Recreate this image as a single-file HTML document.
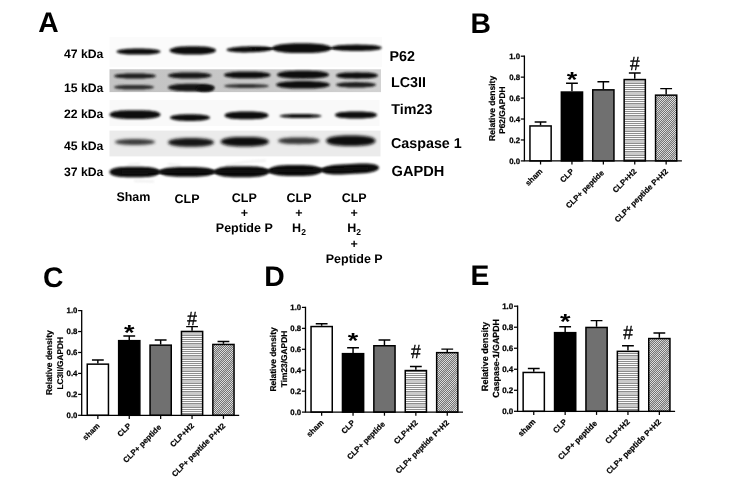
<!DOCTYPE html>
<html lang="en"><head><meta charset="utf-8"><title>Figure</title>
<style>html,body{margin:0;padding:0;background:#fff;}body{width:733px;height:483px;overflow:hidden;}svg{display:block;}text{font-family:"Liberation Sans", sans-serif;font-weight:bold;fill:#000;text-rendering:geometricPrecision;}</style>
</head><body>
<svg width="733" height="483" viewBox="0 0 733 483">
<defs>
<filter id="b1" x="-20%" y="-60%" width="140%" height="220%"><feGaussianBlur stdDeviation="0.9"/></filter>
<filter id="b2" x="-20%" y="-80%" width="140%" height="260%"><feGaussianBlur stdDeviation="1.5"/></filter>
<filter id="b0" x="-5%" y="-5%" width="110%" height="110%"><feGaussianBlur stdDeviation="0.6"/></filter>
<pattern id="hz" width="4" height="12" patternUnits="userSpaceOnUse"><rect width="4" height="12" fill="#fafafa"/><path d="M0 1.5H4M0 3.5H4M0 5.5H4M0 7.5H4M0 9.5H4M0 11.5H4" stroke="#8e8e8e" stroke-width="1"/><rect y="8" width="4" height="3" fill="#cacaca"/></pattern>
<pattern id="dg" width="2" height="2" patternUnits="userSpaceOnUse"><rect width="2" height="2" fill="#727272"/><rect width="1" height="1" fill="#dedede"/><rect x="1" y="1" width="1" height="1" fill="#dedede"/></pattern>
<pattern id="dg2" width="9" height="9" patternUnits="userSpaceOnUse" patternTransform="rotate(-55)"><rect width="9" height="3.2" fill="#8c8c8c" opacity="0.35"/></pattern>
<linearGradient id="lg" x1="0" x2="1" y1="0" y2="0"><stop offset="0" stop-color="#c3c3c3"/><stop offset="0.6" stop-color="#c8c8c8"/><stop offset="1" stop-color="#d2d2d2"/></linearGradient>
</defs>
<rect width="733" height="483" fill="#fff"/>
<text x="38.2" y="32.0" font-size="28.30" text-anchor="start">A</text>
<text x="470.6" y="33.3" font-size="28.30" text-anchor="start">B</text>
<text x="42.9" y="287.4" font-size="28.30" text-anchor="start">C</text>
<text x="264.3" y="286.1" font-size="28.30" text-anchor="start">D</text>
<text x="470.6" y="284.8" font-size="28.30" text-anchor="start">E</text>
<g id="blot">
<g filter="url(#b0)">
<rect x="109.5" y="37" width="272.5" height="30" fill="#fbfbfb"/>
<rect x="109.5" y="69.3" width="271.5" height="22.8" fill="url(#lg)"/>
<rect x="109.5" y="100" width="270" height="26" fill="#f9f9f9"/>
<rect x="109.5" y="130.6" width="271" height="25.8" fill="#ebebeb"/>
</g>
<polygon points="160.5,51.6 160.4,52.0 159.9,52.4 159.2,52.7 158.2,53.1 156.9,53.4 155.4,53.7 153.5,54.0 151.4,54.2 149.0,54.4 146.3,54.5 143.1,54.6 138.5,54.6 133.9,54.6 130.7,54.5 128.0,54.4 125.6,54.2 123.5,54.0 121.6,53.7 120.1,53.4 118.8,53.1 117.8,52.7 117.1,52.4 116.6,52.0 116.5,51.6 116.6,51.2 117.1,50.8 117.8,50.5 118.8,50.1 120.1,49.8 121.6,49.5 123.5,49.2 125.6,49.0 128.0,48.8 130.7,48.7 133.9,48.6 138.5,48.6 143.1,48.6 146.3,48.7 149.0,48.8 151.4,49.0 153.5,49.2 155.4,49.5 156.9,49.8 158.2,50.1 159.2,50.5 159.9,50.8 160.4,51.2" fill="#0a0a0a" filter="url(#b1)" opacity="1"/>
<polygon points="216.0,50.4 215.8,50.9 215.4,51.5 214.6,52.0 213.6,52.4 212.2,52.9 210.6,53.3 208.6,53.7 206.4,54.0 203.9,54.2 201.0,54.4 197.6,54.5 192.8,54.5 187.9,54.5 184.5,54.4 181.6,54.2 179.1,54.0 176.9,53.7 174.9,53.3 173.3,52.9 171.9,52.4 170.9,52.0 170.1,51.5 169.7,50.9 169.5,50.4 169.7,49.9 170.1,49.3 170.9,48.8 171.9,48.4 173.3,47.9 174.9,47.5 176.9,47.1 179.1,46.8 181.6,46.6 184.5,46.4 187.9,46.3 192.7,46.3 197.6,46.3 201.0,46.4 203.9,46.6 206.4,46.8 208.6,47.1 210.6,47.5 212.2,47.9 213.6,48.3 214.6,48.8 215.4,49.3 215.8,49.9" fill="#0a0a0a" filter="url(#b1)" opacity="1"/>
<polygon points="272.5,48.8 272.3,49.2 271.8,49.6 271.0,50.0 269.8,50.4 268.3,50.7 266.5,51.1 264.4,51.4 262.1,51.6 259.5,51.9 256.6,52.0 253.4,52.2 249.5,52.3 245.6,52.4 242.4,52.4 239.5,52.3 236.9,52.2 234.6,52.0 232.5,51.8 230.7,51.5 229.2,51.2 228.0,50.9 227.2,50.6 226.7,50.2 226.5,49.8 226.7,49.4 227.2,49.0 228.0,48.6 229.2,48.2 230.7,47.9 232.5,47.5 234.6,47.2 236.9,47.0 239.5,46.7 242.4,46.6 245.6,46.4 249.5,46.3 253.4,46.2 256.6,46.2 259.5,46.3 262.1,46.4 264.4,46.6 266.5,46.8 268.3,47.1 269.8,47.4 271.0,47.7 271.8,48.0 272.3,48.4" fill="#0a0a0a" filter="url(#b1)" opacity="1"/>
<path d="M250 48.8 L 300 48.3 L 350 47.9" stroke="#0a0a0a" stroke-width="1.8" fill="none" filter="url(#b1)"/>
<polygon points="331.5,48.2 331.3,48.8 330.7,49.5 329.7,50.1 328.4,50.7 326.6,51.2 324.5,51.7 322.1,52.1 319.2,52.4 316.0,52.7 312.3,52.9 308.0,53.1 301.8,53.1 295.5,53.1 291.2,52.9 287.5,52.7 284.3,52.4 281.4,52.1 279.0,51.7 276.9,51.2 275.1,50.7 273.8,50.1 272.8,49.5 272.2,48.8 272.0,48.2 272.2,47.6 272.8,46.9 273.8,46.3 275.1,45.8 276.9,45.2 279.0,44.7 281.4,44.3 284.3,44.0 287.5,43.7 291.2,43.5 295.5,43.3 301.7,43.3 308.0,43.3 312.3,43.5 316.0,43.7 319.2,44.0 322.1,44.3 324.5,44.7 326.6,45.2 328.4,45.8 329.7,46.3 330.7,46.9 331.3,47.6" fill="#0a0a0a" filter="url(#b1)" opacity="1"/>
<polygon points="381.8,47.8 381.6,48.2 381.2,48.6 380.4,49.0 379.3,49.4 378.0,49.7 376.3,50.0 374.3,50.3 372.0,50.5 369.3,50.7 366.2,50.8 362.5,50.9 356.7,50.9 350.8,50.9 347.1,50.8 344.0,50.7 341.3,50.5 339.0,50.3 337.0,50.0 335.3,49.7 334.0,49.4 332.9,49.0 332.1,48.6 331.7,48.2 331.5,47.8 331.7,47.4 332.1,47.0 332.9,46.6 334.0,46.2 335.3,45.9 337.0,45.6 339.0,45.3 341.3,45.1 344.0,44.9 347.1,44.8 350.8,44.7 356.6,44.6 362.5,44.7 366.2,44.8 369.3,44.9 372.0,45.1 374.3,45.3 376.3,45.6 378.0,45.9 379.3,46.2 380.4,46.6 381.2,47.0 381.6,47.4" fill="#0a0a0a" filter="url(#b1)" opacity="1"/>
<polygon points="156.0,76.0 155.9,76.3 155.5,76.6 154.8,76.9 153.9,77.2 152.8,77.5 151.4,77.7 149.7,77.9 147.8,78.1 145.6,78.3 143.0,78.4 139.9,78.4 135.0,78.5 130.1,78.4 127.0,78.4 124.4,78.3 122.2,78.1 120.3,77.9 118.6,77.7 117.2,77.5 116.1,77.2 115.2,76.9 114.5,76.6 114.1,76.3 114.0,76.0 114.1,75.7 114.5,75.4 115.2,75.1 116.1,74.8 117.2,74.5 118.6,74.3 120.3,74.1 122.2,73.9 124.4,73.7 127.0,73.6 130.1,73.6 135.0,73.5 139.9,73.6 143.0,73.6 145.6,73.7 147.8,73.9 149.7,74.1 151.4,74.3 152.8,74.5 153.9,74.8 154.8,75.1 155.5,75.4 155.9,75.7" fill="#1a1a1a" filter="url(#b1)" opacity="1"/>
<polygon points="154.0,87.2 153.9,87.5 153.5,87.8 152.8,88.1 151.9,88.4 150.7,88.6 149.3,88.9 147.7,89.1 145.7,89.2 143.6,89.4 141.1,89.5 138.2,89.5 134.0,89.5 129.8,89.5 126.9,89.5 124.4,89.4 122.3,89.2 120.3,89.1 118.7,88.9 117.3,88.6 116.1,88.4 115.2,88.1 114.5,87.8 114.1,87.5 114.0,87.2 114.1,86.9 114.5,86.6 115.2,86.3 116.1,86.0 117.3,85.8 118.7,85.5 120.3,85.3 122.3,85.2 124.4,85.0 126.9,84.9 129.8,84.9 134.0,84.9 138.2,84.9 141.1,84.9 143.6,85.0 145.7,85.2 147.7,85.3 149.3,85.5 150.7,85.8 151.9,86.0 152.8,86.3 153.5,86.6 153.9,86.9" fill="#2e2e2e" filter="url(#b1)" opacity="1"/>
<polygon points="211.5,75.5 211.4,75.9 211.0,76.3 210.3,76.6 209.4,77.0 208.2,77.3 206.7,77.6 205.0,77.9 203.0,78.1 200.7,78.3 198.0,78.4 194.8,78.5 189.8,78.5 184.7,78.5 181.5,78.4 178.8,78.3 176.5,78.1 174.5,77.9 172.8,77.6 171.3,77.3 170.1,77.0 169.2,76.6 168.5,76.3 168.1,75.9 168.0,75.5 168.1,75.1 168.5,74.7 169.2,74.4 170.1,74.0 171.3,73.7 172.8,73.4 174.5,73.1 176.5,72.9 178.8,72.7 181.5,72.6 184.7,72.5 189.7,72.5 194.8,72.5 198.0,72.6 200.7,72.7 203.0,72.9 205.0,73.1 206.7,73.4 208.2,73.7 209.4,74.0 210.3,74.4 211.0,74.7 211.4,75.1" fill="#141414" filter="url(#b1)" opacity="1"/>
<polygon points="214.5,87.5 214.4,88.0 213.9,88.5 213.2,88.9 212.2,89.3 211.0,89.8 209.4,90.1 207.6,90.4 205.4,90.7 203.0,90.9 200.1,91.1 196.7,91.2 191.3,91.2 185.8,91.2 182.4,91.1 179.5,90.9 177.1,90.7 174.9,90.4 173.1,90.1 171.5,89.8 170.3,89.3 169.3,88.9 168.6,88.5 168.1,88.0 168.0,87.5 168.1,87.0 168.6,86.5 169.3,86.1 170.3,85.7 171.5,85.2 173.1,84.9 174.9,84.6 177.1,84.3 179.5,84.1 182.4,83.9 185.8,83.8 191.2,83.8 196.7,83.8 200.1,83.9 203.0,84.1 205.4,84.3 207.6,84.6 209.4,84.9 211.0,85.2 212.2,85.6 213.2,86.1 213.9,86.5 214.4,87.0" fill="#141414" filter="url(#b1)" opacity="1"/>
<polygon points="214.0,88.6 213.9,89.0 213.7,89.4 213.4,89.8 212.9,90.2 212.3,90.5 211.6,90.9 210.7,91.1 209.8,91.4 208.8,91.6 207.6,91.7 206.4,91.8 205.0,91.8 203.6,91.8 202.4,91.7 201.2,91.6 200.2,91.4 199.3,91.1 198.4,90.9 197.7,90.5 197.1,90.2 196.6,89.8 196.3,89.4 196.1,89.0 196.0,88.6 196.1,88.2 196.3,87.8 196.6,87.4 197.1,87.0 197.7,86.7 198.4,86.3 199.3,86.1 200.2,85.8 201.2,85.6 202.4,85.5 203.6,85.4 205.0,85.4 206.4,85.4 207.6,85.5 208.8,85.6 209.8,85.8 210.7,86.1 211.6,86.3 212.3,86.7 212.9,87.0 213.4,87.4 213.7,87.8 213.9,88.2" fill="#0c0c0c" filter="url(#b1)" opacity="1"/>
<polygon points="270.5,75.0 270.4,75.4 269.9,75.9 269.2,76.3 268.2,76.7 267.0,77.0 265.4,77.3 263.6,77.6 261.4,77.9 259.0,78.0 256.1,78.2 252.7,78.3 247.3,78.3 241.8,78.3 238.4,78.2 235.5,78.0 233.1,77.9 230.9,77.6 229.1,77.3 227.5,77.0 226.3,76.7 225.3,76.3 224.6,75.9 224.1,75.4 224.0,75.0 224.1,74.6 224.6,74.1 225.3,73.7 226.3,73.3 227.5,73.0 229.1,72.7 230.9,72.4 233.1,72.1 235.5,72.0 238.4,71.8 241.8,71.7 247.2,71.7 252.7,71.7 256.1,71.8 259.0,72.0 261.4,72.1 263.6,72.4 265.4,72.7 267.0,73.0 268.2,73.3 269.2,73.7 269.9,74.1 270.4,74.6" fill="#101010" filter="url(#b1)" opacity="1"/>
<polygon points="269.0,86.0 268.8,86.3 268.4,86.5 267.6,86.7 266.5,87.0 265.1,87.2 263.4,87.4 261.4,87.5 259.1,87.7 256.6,87.8 253.8,87.9 250.6,87.9 246.5,88.0 242.4,87.9 239.2,87.9 236.4,87.8 233.9,87.7 231.6,87.5 229.6,87.4 227.9,87.2 226.5,87.0 225.4,86.7 224.6,86.5 224.2,86.3 224.0,86.0 224.2,85.7 224.6,85.5 225.4,85.3 226.5,85.0 227.9,84.8 229.6,84.6 231.6,84.5 233.9,84.3 236.4,84.2 239.2,84.1 242.4,84.1 246.5,84.0 250.6,84.1 253.8,84.1 256.6,84.2 259.1,84.3 261.4,84.5 263.4,84.6 265.1,84.8 266.5,85.0 267.6,85.3 268.4,85.5 268.8,85.7" fill="#333" filter="url(#b1)" opacity="1"/>
<polygon points="329.0,74.7 328.8,75.2 328.4,75.7 327.6,76.2 326.5,76.7 325.0,77.1 323.3,77.5 321.2,77.8 318.8,78.1 316.1,78.3 312.9,78.5 309.1,78.6 303.0,78.7 296.9,78.6 293.1,78.5 289.9,78.3 287.2,78.1 284.8,77.8 282.7,77.5 281.0,77.1 279.5,76.7 278.4,76.2 277.6,75.7 277.2,75.2 277.0,74.7 277.2,74.2 277.6,73.7 278.4,73.2 279.5,72.7 281.0,72.3 282.7,71.9 284.8,71.6 287.2,71.3 289.9,71.1 293.1,70.9 296.9,70.8 303.0,70.8 309.1,70.8 312.9,70.9 316.1,71.1 318.8,71.3 321.2,71.6 323.3,71.9 325.0,72.3 326.5,72.7 327.6,73.2 328.4,73.7 328.8,74.2" fill="#0c0c0c" filter="url(#b1)" opacity="1"/>
<polygon points="330.0,84.8 329.8,85.3 329.3,85.8 328.5,86.2 327.4,86.6 325.9,87.1 324.1,87.4 321.9,87.7 319.5,88.0 316.6,88.2 313.3,88.4 309.3,88.5 303.0,88.5 296.7,88.5 292.7,88.4 289.4,88.2 286.5,88.0 284.1,87.7 281.9,87.4 280.1,87.1 278.6,86.6 277.5,86.2 276.7,85.8 276.2,85.3 276.0,84.8 276.2,84.3 276.7,83.8 277.5,83.4 278.6,83.0 280.1,82.5 281.9,82.2 284.1,81.9 286.5,81.6 289.4,81.4 292.7,81.2 296.7,81.1 303.0,81.1 309.3,81.1 313.3,81.2 316.6,81.4 319.5,81.6 321.9,81.9 324.1,82.2 325.9,82.5 327.4,82.9 328.5,83.4 329.3,83.8 329.8,84.3" fill="#101010" filter="url(#b1)" opacity="1"/>
<polygon points="378.0,75.5 377.9,75.9 377.5,76.3 376.8,76.7 375.9,77.1 374.8,77.4 373.4,77.7 371.7,78.0 369.8,78.2 367.6,78.4 365.0,78.5 361.9,78.6 357.0,78.7 352.1,78.6 349.0,78.5 346.4,78.4 344.2,78.2 342.3,78.0 340.6,77.7 339.2,77.4 338.1,77.1 337.2,76.7 336.5,76.3 336.1,75.9 336.0,75.5 336.1,75.1 336.5,74.7 337.2,74.3 338.1,73.9 339.2,73.6 340.6,73.3 342.3,73.0 344.2,72.8 346.4,72.6 349.0,72.5 352.1,72.4 357.0,72.3 361.9,72.4 365.0,72.5 367.6,72.6 369.8,72.8 371.7,73.0 373.4,73.3 374.8,73.6 375.9,73.9 376.8,74.3 377.5,74.7 377.9,75.1" fill="#101010" filter="url(#b1)" opacity="1"/>
<polygon points="376.0,84.8 375.9,85.1 375.5,85.5 374.8,85.8 373.9,86.1 372.7,86.4 371.3,86.7 369.7,86.9 367.7,87.1 365.6,87.2 363.1,87.4 360.2,87.4 356.0,87.5 351.8,87.4 348.9,87.4 346.4,87.2 344.3,87.1 342.3,86.9 340.7,86.7 339.3,86.4 338.1,86.1 337.2,85.8 336.5,85.5 336.1,85.1 336.0,84.8 336.1,84.5 336.5,84.1 337.2,83.8 338.1,83.5 339.3,83.2 340.7,82.9 342.3,82.7 344.3,82.5 346.4,82.4 348.9,82.2 351.8,82.2 356.0,82.1 360.2,82.2 363.1,82.2 365.6,82.4 367.7,82.5 369.7,82.7 371.3,82.9 372.7,83.2 373.9,83.5 374.8,83.8 375.5,84.1 375.9,84.5" fill="#1c1c1c" filter="url(#b1)" opacity="1"/>
<polygon points="160.5,114.6 160.4,115.2 160.0,115.7 159.3,116.2 158.4,116.8 157.3,117.2 155.8,117.6 154.0,118.0 152.0,118.3 149.5,118.6 146.5,118.8 142.7,118.9 135.0,118.9 127.3,118.9 123.5,118.8 120.5,118.6 118.0,118.3 116.0,118.0 114.2,117.6 112.7,117.2 111.6,116.8 110.7,116.2 110.0,115.7 109.6,115.2 109.5,114.6 109.6,114.0 110.0,113.5 110.7,113.0 111.6,112.4 112.7,112.0 114.2,111.6 116.0,111.2 118.0,110.9 120.5,110.6 123.5,110.4 127.3,110.3 135.0,110.3 142.7,110.3 146.5,110.4 149.5,110.6 152.0,110.9 154.0,111.2 155.8,111.6 157.3,112.0 158.4,112.4 159.3,113.0 160.0,113.5 160.4,114.0" fill="#0a0a0a" filter="url(#b1)" opacity="1"/>
<polygon points="210.0,117.6 209.9,118.0 209.5,118.5 208.8,118.9 207.9,119.3 206.7,119.6 205.3,120.0 203.7,120.3 201.7,120.5 199.6,120.7 197.1,120.8 194.2,120.9 190.0,120.9 185.8,120.9 182.9,120.8 180.4,120.7 178.3,120.5 176.3,120.3 174.7,120.0 173.3,119.6 172.1,119.3 171.2,118.9 170.5,118.5 170.1,118.0 170.0,117.6 170.1,117.2 170.5,116.7 171.2,116.3 172.1,115.9 173.3,115.6 174.7,115.2 176.3,114.9 178.3,114.7 180.4,114.5 182.9,114.4 185.8,114.3 190.0,114.2 194.2,114.3 197.1,114.4 199.6,114.5 201.7,114.7 203.7,114.9 205.3,115.2 206.7,115.6 207.9,115.9 208.8,116.3 209.5,116.7 209.9,117.2" fill="#0a0a0a" filter="url(#b1)" opacity="1"/>
<polygon points="268.5,115.4 268.4,115.9 268.0,116.4 267.4,116.9 266.6,117.3 265.5,117.7 264.2,118.1 262.6,118.4 260.8,118.7 258.6,118.9 256.0,119.1 252.7,119.2 246.5,119.2 240.3,119.2 237.0,119.1 234.4,118.9 232.2,118.7 230.4,118.4 228.8,118.1 227.5,117.7 226.4,117.3 225.6,116.9 225.0,116.4 224.6,115.9 224.5,115.4 224.6,114.9 225.0,114.4 225.6,113.9 226.4,113.5 227.5,113.1 228.8,112.7 230.4,112.4 232.2,112.1 234.4,111.9 237.0,111.7 240.3,111.6 246.5,111.6 252.7,111.6 256.0,111.7 258.6,111.9 260.8,112.1 262.6,112.4 264.2,112.7 265.5,113.1 266.6,113.5 267.4,113.9 268.0,114.4 268.4,114.9" fill="#0a0a0a" filter="url(#b1)" opacity="1"/>
<polygon points="321.6,116.0 321.4,116.3 320.9,116.5 320.1,116.8 319.0,117.0 317.6,117.2 315.9,117.4 314.0,117.6 311.8,117.8 309.3,117.9 306.7,118.0 303.9,118.0 300.6,118.0 297.2,118.0 294.4,118.0 291.8,117.9 289.3,117.8 287.1,117.6 285.2,117.4 283.5,117.2 282.1,117.0 281.0,116.8 280.2,116.5 279.7,116.3 279.5,116.0 279.7,115.7 280.2,115.5 281.0,115.2 282.1,115.0 283.5,114.8 285.2,114.6 287.1,114.4 289.3,114.2 291.8,114.1 294.4,114.0 297.2,114.0 300.5,114.0 303.9,114.0 306.7,114.0 309.3,114.1 311.8,114.2 314.0,114.4 315.9,114.6 317.6,114.8 319.0,115.0 320.1,115.2 320.9,115.5 321.4,115.7" fill="#0a0a0a" filter="url(#b1)" opacity="1"/>
<polygon points="377.0,115.0 376.9,115.4 376.6,115.9 376.0,116.3 375.2,116.7 374.3,117.1 373.0,117.4 371.5,117.7 369.8,117.9 367.7,118.1 365.3,118.3 362.1,118.4 356.0,118.4 349.9,118.4 346.7,118.3 344.3,118.1 342.2,117.9 340.5,117.7 339.0,117.4 337.7,117.1 336.8,116.7 336.0,116.3 335.4,115.9 335.1,115.4 335.0,115.0 335.1,114.6 335.4,114.1 336.0,113.7 336.8,113.3 337.7,112.9 339.0,112.6 340.5,112.3 342.2,112.1 344.3,111.9 346.7,111.7 349.9,111.6 356.0,111.6 362.1,111.6 365.3,111.7 367.7,111.9 369.8,112.1 371.5,112.3 373.0,112.6 374.3,112.9 375.2,113.3 376.0,113.7 376.6,114.1 376.9,114.6" fill="#0a0a0a" filter="url(#b1)" opacity="1"/>
<polygon points="155.0,142.0 154.9,142.4 154.5,142.8 153.8,143.1 152.9,143.5 151.7,143.8 150.3,144.1 148.7,144.3 146.7,144.6 144.6,144.7 142.1,144.8 139.2,144.9 135.0,144.9 130.8,144.9 127.9,144.8 125.4,144.7 123.3,144.6 121.3,144.3 119.7,144.1 118.3,143.8 117.1,143.5 116.2,143.1 115.5,142.8 115.1,142.4 115.0,142.0 115.1,141.6 115.5,141.2 116.2,140.9 117.1,140.5 118.3,140.2 119.7,139.9 121.3,139.7 123.3,139.4 125.4,139.3 127.9,139.2 130.8,139.1 135.0,139.1 139.2,139.1 142.1,139.2 144.6,139.3 146.7,139.4 148.7,139.7 150.3,139.9 151.7,140.2 152.9,140.5 153.8,140.9 154.5,141.2 154.9,141.6" fill="#3a3a3a" filter="url(#b2)" opacity="1"/>
<polygon points="214.0,142.4 213.9,143.0 213.4,143.5 212.7,144.0 211.8,144.6 210.5,145.0 209.0,145.4 207.1,145.8 205.0,146.1 202.6,146.4 199.8,146.6 196.4,146.7 191.0,146.7 185.6,146.7 182.2,146.6 179.4,146.4 177.0,146.1 174.9,145.8 173.0,145.4 171.5,145.0 170.2,144.6 169.3,144.0 168.6,143.5 168.1,143.0 168.0,142.4 168.1,141.8 168.6,141.3 169.3,140.8 170.2,140.2 171.5,139.8 173.0,139.4 174.9,139.0 177.0,138.7 179.4,138.4 182.2,138.2 185.6,138.1 191.0,138.1 196.4,138.1 199.8,138.2 202.6,138.4 205.0,138.7 207.1,139.0 209.0,139.4 210.5,139.8 211.8,140.2 212.7,140.8 213.4,141.3 213.9,141.8" fill="#161616" filter="url(#b2)" opacity="1"/>
<polygon points="269.0,141.7 268.9,142.3 268.4,142.9 267.7,143.5 266.6,144.1 265.3,144.6 263.7,145.1 261.8,145.5 259.6,145.8 257.0,146.1 254.0,146.3 250.5,146.4 244.8,146.4 239.1,146.4 235.6,146.3 232.6,146.1 230.0,145.8 227.8,145.5 225.9,145.1 224.3,144.6 223.0,144.1 221.9,143.5 221.2,142.9 220.7,142.3 220.6,141.7 220.7,141.1 221.2,140.5 221.9,139.9 223.0,139.3 224.3,138.8 225.9,138.3 227.8,137.9 230.0,137.6 232.6,137.3 235.6,137.1 239.1,137.0 244.8,136.9 250.5,137.0 254.0,137.1 257.0,137.3 259.6,137.6 261.8,137.9 263.7,138.3 265.3,138.8 266.6,139.3 267.7,139.9 268.4,140.5 268.9,141.1" fill="#101010" filter="url(#b2)" opacity="1"/>
<polygon points="319.7,140.8 319.6,141.2 319.2,141.7 318.5,142.1 317.5,142.5 316.3,142.8 314.8,143.2 313.1,143.5 311.1,143.7 308.8,143.9 306.2,144.0 303.2,144.1 298.9,144.2 294.5,144.1 291.5,144.0 288.9,143.9 286.6,143.7 284.6,143.5 282.9,143.2 281.4,142.8 280.2,142.5 279.2,142.1 278.5,141.7 278.1,141.2 278.0,140.8 278.1,140.4 278.5,139.9 279.2,139.5 280.2,139.1 281.4,138.8 282.9,138.4 284.6,138.1 286.6,137.9 288.9,137.7 291.5,137.6 294.5,137.5 298.8,137.5 303.2,137.5 306.2,137.6 308.8,137.7 311.1,137.9 313.1,138.1 314.8,138.4 316.3,138.8 317.5,139.1 318.5,139.5 319.2,139.9 319.6,140.4" fill="#383838" filter="url(#b2)" opacity="1"/>
<polygon points="375.6,140.8 375.4,141.5 375.0,142.1 374.2,142.8 373.2,143.4 371.8,144.0 370.2,144.5 368.2,144.9 365.9,145.3 363.3,145.6 360.2,145.8 356.6,146.0 350.8,146.0 345.0,146.0 341.4,145.8 338.3,145.6 335.7,145.3 333.4,144.9 331.4,144.5 329.8,144.0 328.4,143.4 327.4,142.8 326.6,142.1 326.2,141.5 326.0,140.8 326.2,140.1 326.6,139.5 327.4,138.8 328.4,138.2 329.8,137.6 331.4,137.1 333.4,136.7 335.7,136.3 338.3,136.0 341.4,135.8 345.0,135.6 350.8,135.6 356.6,135.6 360.2,135.8 363.3,136.0 365.9,136.3 368.2,136.7 370.2,137.1 371.8,137.6 373.2,138.2 374.2,138.8 375.0,139.5 375.4,140.1" fill="#0c0c0c" filter="url(#b2)" opacity="1"/>
<g filter="url(#b1)" stroke="#d4d4d4" stroke-width="1.6" fill="none" opacity="0.5"><path d="M128 164.5 L140 163.5"/><path d="M168 164 L181 165.5"/><path d="M226 165.5 L245 162 L266 160.5"/><path d="M134 181 L154 181.5"/></g>
<polygon points="159.5,172.0 159.4,172.7 159.0,173.4 158.4,174.0 157.5,174.7 156.3,175.2 154.9,175.7 153.2,176.2 151.1,176.6 148.7,176.9 145.8,177.1 142.0,177.3 134.5,177.3 127.0,177.3 123.2,177.1 120.3,176.9 117.9,176.6 115.8,176.2 114.1,175.7 112.7,175.2 111.5,174.7 110.6,174.0 110.0,173.4 109.6,172.7 109.5,172.0 109.6,171.3 110.0,170.6 110.6,170.0 111.5,169.3 112.7,168.8 114.1,168.3 115.8,167.8 117.9,167.4 120.3,167.1 123.2,166.9 127.0,166.7 134.5,166.7 142.0,166.7 145.8,166.9 148.7,167.1 151.1,167.4 153.2,167.8 154.9,168.3 156.3,168.8 157.5,169.3 158.4,170.0 159.0,170.6 159.4,171.3" fill="#0a0a0a" filter="url(#b1)" opacity="1"/>
<polygon points="214.3,171.9 214.2,172.5 213.7,173.1 213.1,173.7 212.1,174.3 210.8,174.8 209.2,175.3 207.4,175.7 205.1,176.1 202.5,176.3 199.3,176.5 195.2,176.7 186.9,176.7 178.6,176.7 174.5,176.5 171.3,176.3 168.7,176.1 166.4,175.7 164.6,175.3 163.0,174.8 161.7,174.3 160.7,173.7 160.1,173.1 159.6,172.5 159.5,171.9 159.6,171.3 160.1,170.7 160.7,170.1 161.7,169.5 163.0,169.0 164.6,168.5 166.4,168.1 168.7,167.7 171.3,167.5 174.5,167.3 178.6,167.1 186.9,167.1 195.2,167.1 199.3,167.3 202.5,167.5 205.1,167.7 207.4,168.1 209.2,168.5 210.8,169.0 212.1,169.5 213.1,170.1 213.7,170.7 214.2,171.3" fill="#0a0a0a" filter="url(#b1)" opacity="1"/>
<polygon points="268.8,171.7 268.7,172.4 268.3,173.1 267.6,173.8 266.6,174.4 265.4,175.0 263.8,175.6 261.9,176.1 259.7,176.5 257.1,176.8 253.9,177.0 249.9,177.2 241.7,177.2 233.5,177.2 229.5,177.0 226.3,176.8 223.7,176.5 221.5,176.1 219.6,175.6 218.0,175.0 216.8,174.4 215.8,173.8 215.1,173.1 214.7,172.4 214.6,171.7 214.7,171.0 215.1,170.3 215.8,169.6 216.8,168.9 218.0,168.4 219.6,167.8 221.5,167.3 223.7,166.9 226.3,166.6 229.5,166.4 233.5,166.2 241.7,166.2 249.9,166.2 253.9,166.4 257.1,166.6 259.7,166.9 261.9,167.3 263.8,167.8 265.4,168.4 266.6,168.9 267.6,169.6 268.3,170.3 268.7,171.0" fill="#0a0a0a" filter="url(#b1)" opacity="1"/>
<polygon points="321.8,170.5 321.7,171.2 321.3,171.9 320.6,172.6 319.7,173.2 318.4,173.8 316.9,174.3 315.1,174.8 312.9,175.2 310.4,175.5 307.3,175.7 303.3,175.9 295.3,175.9 287.3,175.9 283.3,175.7 280.2,175.5 277.7,175.2 275.5,174.8 273.7,174.3 272.2,173.8 270.9,173.2 270.0,172.6 269.3,171.9 268.9,171.2 268.8,170.5 268.9,169.8 269.3,169.1 270.0,168.4 270.9,167.8 272.2,167.2 273.7,166.7 275.5,166.2 277.7,165.8 280.2,165.5 283.3,165.3 287.3,165.1 295.3,165.1 303.3,165.1 307.3,165.3 310.4,165.5 312.9,165.8 315.1,166.2 316.9,166.7 318.4,167.2 319.7,167.8 320.6,168.4 321.3,169.1 321.7,169.8" fill="#0a0a0a" filter="url(#b1)" opacity="1"/>
<polygon points="379.0,167.7 378.9,168.4 378.5,169.0 377.8,169.7 376.8,170.3 375.5,171.0 374.0,171.5 372.1,172.1 369.9,172.5 367.2,172.9 363.9,173.3 359.6,173.6 350.4,174.1 341.2,174.5 336.9,174.5 333.6,174.5 330.9,174.3 328.7,174.0 326.8,173.7 325.3,173.2 324.0,172.8 323.0,172.2 322.3,171.6 321.9,171.0 321.8,170.3 321.9,169.6 322.3,169.0 323.0,168.3 324.0,167.7 325.3,167.0 326.8,166.5 328.7,165.9 330.9,165.5 333.6,165.1 336.9,164.7 341.2,164.4 350.4,163.9 359.6,163.5 363.9,163.5 367.2,163.5 369.9,163.7 372.1,164.0 374.0,164.3 375.5,164.8 376.8,165.2 377.8,165.8 378.5,166.4 378.9,167.0" fill="#0a0a0a" filter="url(#b1)" opacity="1"/>
<path d="M122 172 L 240 171.8 L 300 170.5 L 368 168.4" stroke="#0a0a0a" stroke-width="3.6" fill="none" filter="url(#b1)"/>
</g>
<text x="103.4" y="58.3" font-size="12.20" text-anchor="end">47 kDa</text>
<text x="103.4" y="91.5" font-size="12.20" text-anchor="end">15 kDa</text>
<text x="103.4" y="118.0" font-size="12.20" text-anchor="end">22 kDa</text>
<text x="103.4" y="149.6" font-size="12.20" text-anchor="end">45 kDa</text>
<text x="103.4" y="176.2" font-size="12.20" text-anchor="end">37 kDa</text>
<text x="389.5" y="60.6" font-size="14.30" text-anchor="start">P62</text>
<text x="391.0" y="87.0" font-size="14.30" text-anchor="start">LC3II</text>
<text x="391.3" y="113.5" font-size="14.30" text-anchor="start">Tim23</text>
<text x="391.0" y="148.0" font-size="14.30" text-anchor="start">Caspase 1</text>
<text x="391.6" y="175.7" font-size="14.60" text-anchor="start">GAPDH</text>
<text x="133.4" y="201.4" font-size="12.50" text-anchor="middle">Sham</text>
<text x="187.0" y="203.0" font-size="12.50" text-anchor="middle">CLP</text>
<text x="244.3" y="201.6" font-size="12.50" text-anchor="middle">CLP</text>
<text x="244.3" y="216.9" font-size="12.50" text-anchor="middle">+</text>
<text x="244.3" y="232.2" font-size="12.50" text-anchor="middle">Peptide P</text>
<text x="299.0" y="201.6" font-size="12.50" text-anchor="middle">CLP</text>
<text x="299.0" y="216.9" font-size="12.50" text-anchor="middle">+</text>
<text x="299.0" y="232.2" font-size="12.50" text-anchor="middle">H<tspan font-size="8.5" dy="2.5">2</tspan></text>
<text x="354.2" y="201.6" font-size="12.50" text-anchor="middle">CLP</text>
<text x="354.2" y="216.9" font-size="12.50" text-anchor="middle">+</text>
<text x="354.2" y="232.2" font-size="12.50" text-anchor="middle">H<tspan font-size="8.5" dy="2.5">2</tspan></text>
<text x="354.2" y="247.5" font-size="12.50" text-anchor="middle">+</text>
<text x="354.2" y="262.8" font-size="12.50" text-anchor="middle">Peptide P</text>
<g>
<path d="M540.55 125.20V122.00M534.65 122.00H546.45" stroke="#000" stroke-width="1.45" fill="none"/>
<rect x="529.95" y="125.95" width="21.20" height="34.95" fill="#fff" stroke="#000" stroke-width="1.50"/>
<path d="M540.55 160.90V164.50" stroke="#000" stroke-width="1.25"/>
<text font-size="7.80" stroke="#000" stroke-width="0.2" text-anchor="end" transform="translate(542.95 171.90) rotate(-45)">sham</text>
<path d="M571.95 91.30V83.20M566.05 83.20H577.85" stroke="#000" stroke-width="1.45" fill="none"/>
<rect x="561.35" y="92.05" width="21.20" height="68.85" fill="#000" stroke="#000" stroke-width="1.50"/>
<path d="M571.95 160.90V164.50" stroke="#000" stroke-width="1.25"/>
<text font-size="7.80" stroke="#000" stroke-width="0.2" text-anchor="end" transform="translate(574.35 171.90) rotate(-45)">CLP</text>
<path d="M603.35 89.10V81.80M597.45 81.80H609.25" stroke="#000" stroke-width="1.45" fill="none"/>
<rect x="592.75" y="89.85" width="21.20" height="71.05" fill="#707070" stroke="#000" stroke-width="1.50"/>
<path d="M603.35 160.90V164.50" stroke="#000" stroke-width="1.25"/>
<text font-size="7.80" stroke="#000" stroke-width="0.2" text-anchor="end" transform="translate(604.45 173.40) rotate(-45)">CLP+ peptide</text>
<path d="M634.75 78.80V73.00M628.85 73.00H640.65" stroke="#000" stroke-width="1.45" fill="none"/>
<rect x="624.15" y="79.55" width="21.20" height="81.35" fill="url(#hz)" stroke="#000" stroke-width="1.50"/>
<path d="M634.75 160.90V164.50" stroke="#000" stroke-width="1.25"/>
<text font-size="7.80" stroke="#000" stroke-width="0.2" text-anchor="end" transform="translate(637.15 171.90) rotate(-45)">CLP+H2</text>
<path d="M666.15 94.40V88.60M660.25 88.60H672.05" stroke="#000" stroke-width="1.45" fill="none"/>
<rect x="655.55" y="95.15" width="21.20" height="65.75" fill="url(#dg)"/>
<rect x="655.55" y="95.15" width="21.20" height="65.75" fill="url(#dg2)" stroke="#000" stroke-width="1.50"/>
<path d="M666.15 160.90V164.50" stroke="#000" stroke-width="1.25"/>
<text font-size="7.80" stroke="#000" stroke-width="0.2" text-anchor="end" transform="translate(668.55 171.90) rotate(-45)">CLP+ peptide P+H2</text>
<path d="M524.40 55.60V160.90H681.90" stroke="#000" stroke-width="1.3" fill="none"/>
<path d="M520.80 160.90H524.40" stroke="#000" stroke-width="1.25"/>
<text x="520.1" y="163.7" font-size="7.80" text-anchor="end" stroke="#000" stroke-width="0.25">0.0</text>
<path d="M520.80 139.96H524.40" stroke="#000" stroke-width="1.25"/>
<text x="520.1" y="142.8" font-size="7.80" text-anchor="end" stroke="#000" stroke-width="0.25">0.2</text>
<path d="M520.80 119.02H524.40" stroke="#000" stroke-width="1.25"/>
<text x="520.1" y="121.8" font-size="7.80" text-anchor="end" stroke="#000" stroke-width="0.25">0.4</text>
<path d="M520.80 98.08H524.40" stroke="#000" stroke-width="1.25"/>
<text x="520.1" y="100.9" font-size="7.80" text-anchor="end" stroke="#000" stroke-width="0.25">0.6</text>
<path d="M520.80 77.14H524.40" stroke="#000" stroke-width="1.25"/>
<text x="520.1" y="79.9" font-size="7.80" text-anchor="end" stroke="#000" stroke-width="0.25">0.8</text>
<path d="M520.80 56.20H524.40" stroke="#000" stroke-width="1.25"/>
<text x="520.1" y="59.0" font-size="7.80" text-anchor="end" stroke="#000" stroke-width="0.25">1.0</text>
<text font-size="8.55" stroke="#000" stroke-width="0.2" text-anchor="middle" transform="translate(494.90 108.35) rotate(-90)">Relative density</text>
<text font-size="8.35" stroke="#000" stroke-width="0.2" text-anchor="middle" transform="translate(505.40 110.20) rotate(-90)">P62/GAPDH</text>
<text transform="translate(571.95 87.00) scale(1.08 0.88)" font-size="25" text-anchor="middle">*</text>
<text transform="translate(634.75 69.60) scale(1 1.1)" font-size="17.3" stroke="#000" stroke-width="0.3" text-anchor="middle" style="font-weight:normal">#</text>
</g>
<g>
<path d="M97.85 363.40V359.90M91.95 359.90H103.75" stroke="#000" stroke-width="1.45" fill="none"/>
<rect x="87.25" y="364.15" width="21.20" height="51.15" fill="#fff" stroke="#000" stroke-width="1.50"/>
<path d="M97.85 415.30V418.90" stroke="#000" stroke-width="1.25"/>
<text font-size="7.80" stroke="#000" stroke-width="0.2" text-anchor="end" transform="translate(100.25 426.30) rotate(-45)">sham</text>
<path d="M129.25 339.90V336.00M123.35 336.00H135.15" stroke="#000" stroke-width="1.45" fill="none"/>
<rect x="118.65" y="340.65" width="21.20" height="74.65" fill="#000" stroke="#000" stroke-width="1.50"/>
<path d="M129.25 415.30V418.90" stroke="#000" stroke-width="1.25"/>
<text font-size="7.80" stroke="#000" stroke-width="0.2" text-anchor="end" transform="translate(131.65 426.30) rotate(-45)">CLP</text>
<path d="M160.65 344.40V339.90M154.75 339.90H166.55" stroke="#000" stroke-width="1.45" fill="none"/>
<rect x="150.05" y="345.15" width="21.20" height="70.15" fill="#707070" stroke="#000" stroke-width="1.50"/>
<path d="M160.65 415.30V418.90" stroke="#000" stroke-width="1.25"/>
<text font-size="7.80" stroke="#000" stroke-width="0.2" text-anchor="end" transform="translate(161.75 427.80) rotate(-45)">CLP+ peptide</text>
<path d="M192.05 330.70V326.60M186.15 326.60H197.95" stroke="#000" stroke-width="1.45" fill="none"/>
<rect x="181.45" y="331.45" width="21.20" height="83.85" fill="url(#hz)" stroke="#000" stroke-width="1.50"/>
<path d="M192.05 415.30V418.90" stroke="#000" stroke-width="1.25"/>
<text font-size="7.80" stroke="#000" stroke-width="0.2" text-anchor="end" transform="translate(194.45 426.30) rotate(-45)">CLP+H2</text>
<path d="M223.45 343.70V341.40M217.55 341.40H229.35" stroke="#000" stroke-width="1.45" fill="none"/>
<rect x="212.85" y="344.45" width="21.20" height="70.85" fill="url(#dg)"/>
<rect x="212.85" y="344.45" width="21.20" height="70.85" fill="url(#dg2)" stroke="#000" stroke-width="1.50"/>
<path d="M223.45 415.30V418.90" stroke="#000" stroke-width="1.25"/>
<text font-size="7.80" stroke="#000" stroke-width="0.2" text-anchor="end" transform="translate(225.85 426.30) rotate(-45)">CLP+ peptide P+H2</text>
<path d="M81.70 310.00V415.30H239.20" stroke="#000" stroke-width="1.3" fill="none"/>
<path d="M78.10 415.30H81.70" stroke="#000" stroke-width="1.25"/>
<text x="77.4" y="418.1" font-size="7.80" text-anchor="end" stroke="#000" stroke-width="0.25">0.0</text>
<path d="M78.10 394.36H81.70" stroke="#000" stroke-width="1.25"/>
<text x="77.4" y="397.2" font-size="7.80" text-anchor="end" stroke="#000" stroke-width="0.25">0.2</text>
<path d="M78.10 373.42H81.70" stroke="#000" stroke-width="1.25"/>
<text x="77.4" y="376.2" font-size="7.80" text-anchor="end" stroke="#000" stroke-width="0.25">0.4</text>
<path d="M78.10 352.48H81.70" stroke="#000" stroke-width="1.25"/>
<text x="77.4" y="355.3" font-size="7.80" text-anchor="end" stroke="#000" stroke-width="0.25">0.6</text>
<path d="M78.10 331.54H81.70" stroke="#000" stroke-width="1.25"/>
<text x="77.4" y="334.3" font-size="7.80" text-anchor="end" stroke="#000" stroke-width="0.25">0.8</text>
<path d="M78.10 310.60H81.70" stroke="#000" stroke-width="1.25"/>
<text x="77.4" y="313.4" font-size="7.80" text-anchor="end" stroke="#000" stroke-width="0.25">1.0</text>
<text font-size="8.52" stroke="#000" stroke-width="0.2" text-anchor="middle" transform="translate(52.20 362.70) rotate(-90)">Relative density</text>
<text font-size="8.30" stroke="#000" stroke-width="0.2" text-anchor="middle" transform="translate(62.70 363.30) rotate(-90)">LC3II/GAPDH</text>
<text transform="translate(129.25 340.30) scale(1.08 0.88)" font-size="25" text-anchor="middle">*</text>
<text transform="translate(192.05 325.40) scale(1 1.1)" font-size="17.3" stroke="#000" stroke-width="0.3" text-anchor="middle" style="font-weight:normal">#</text>
</g>
<g>
<path d="M321.65 325.80V323.80M315.75 323.80H327.55" stroke="#000" stroke-width="1.45" fill="none"/>
<rect x="311.05" y="326.55" width="21.20" height="85.55" fill="#fff" stroke="#000" stroke-width="1.50"/>
<path d="M321.65 412.10V415.70" stroke="#000" stroke-width="1.25"/>
<text font-size="7.80" stroke="#000" stroke-width="0.2" text-anchor="end" transform="translate(324.05 423.10) rotate(-45)">sham</text>
<path d="M353.05 352.90V347.80M347.15 347.80H358.95" stroke="#000" stroke-width="1.45" fill="none"/>
<rect x="342.45" y="353.65" width="21.20" height="58.45" fill="#000" stroke="#000" stroke-width="1.50"/>
<path d="M353.05 412.10V415.70" stroke="#000" stroke-width="1.25"/>
<text font-size="7.80" stroke="#000" stroke-width="0.2" text-anchor="end" transform="translate(355.45 423.10) rotate(-45)">CLP</text>
<path d="M384.45 345.00V340.00M378.55 340.00H390.35" stroke="#000" stroke-width="1.45" fill="none"/>
<rect x="373.85" y="345.75" width="21.20" height="66.35" fill="#707070" stroke="#000" stroke-width="1.50"/>
<path d="M384.45 412.10V415.70" stroke="#000" stroke-width="1.25"/>
<text font-size="7.80" stroke="#000" stroke-width="0.2" text-anchor="end" transform="translate(385.55 424.60) rotate(-45)">CLP+ peptide</text>
<path d="M415.85 369.80V366.50M409.95 366.50H421.75" stroke="#000" stroke-width="1.45" fill="none"/>
<rect x="405.25" y="370.55" width="21.20" height="41.55" fill="url(#hz)" stroke="#000" stroke-width="1.50"/>
<path d="M415.85 412.10V415.70" stroke="#000" stroke-width="1.25"/>
<text font-size="7.80" stroke="#000" stroke-width="0.2" text-anchor="end" transform="translate(418.25 423.10) rotate(-45)">CLP+H2</text>
<path d="M447.25 351.90V349.10M441.35 349.10H453.15" stroke="#000" stroke-width="1.45" fill="none"/>
<rect x="436.65" y="352.65" width="21.20" height="59.45" fill="url(#dg)"/>
<rect x="436.65" y="352.65" width="21.20" height="59.45" fill="url(#dg2)" stroke="#000" stroke-width="1.50"/>
<path d="M447.25 412.10V415.70" stroke="#000" stroke-width="1.25"/>
<text font-size="7.80" stroke="#000" stroke-width="0.2" text-anchor="end" transform="translate(449.65 423.10) rotate(-45)">CLP+ peptide P+H2</text>
<path d="M305.50 306.80V412.10H463.00" stroke="#000" stroke-width="1.3" fill="none"/>
<path d="M301.90 412.10H305.50" stroke="#000" stroke-width="1.25"/>
<text x="301.2" y="414.9" font-size="7.80" text-anchor="end" stroke="#000" stroke-width="0.25">0.0</text>
<path d="M301.90 391.16H305.50" stroke="#000" stroke-width="1.25"/>
<text x="301.2" y="394.0" font-size="7.80" text-anchor="end" stroke="#000" stroke-width="0.25">0.2</text>
<path d="M301.90 370.22H305.50" stroke="#000" stroke-width="1.25"/>
<text x="301.2" y="373.0" font-size="7.80" text-anchor="end" stroke="#000" stroke-width="0.25">0.4</text>
<path d="M301.90 349.28H305.50" stroke="#000" stroke-width="1.25"/>
<text x="301.2" y="352.1" font-size="7.80" text-anchor="end" stroke="#000" stroke-width="0.25">0.6</text>
<path d="M301.90 328.34H305.50" stroke="#000" stroke-width="1.25"/>
<text x="301.2" y="331.1" font-size="7.80" text-anchor="end" stroke="#000" stroke-width="0.25">0.8</text>
<path d="M301.90 307.40H305.50" stroke="#000" stroke-width="1.25"/>
<text x="301.2" y="310.2" font-size="7.80" text-anchor="end" stroke="#000" stroke-width="0.25">1.0</text>
<text font-size="8.45" stroke="#000" stroke-width="0.2" text-anchor="middle" transform="translate(276.00 359.40) rotate(-90)">Relative density</text>
<text font-size="8.37" stroke="#000" stroke-width="0.2" text-anchor="middle" transform="translate(286.50 359.05) rotate(-90)">Tim23/GAPDH</text>
<text transform="translate(353.05 347.90) scale(1.08 0.88)" font-size="25" text-anchor="middle">*</text>
<text transform="translate(415.85 358.30) scale(1 1.1)" font-size="17.3" stroke="#000" stroke-width="0.3" text-anchor="middle" style="font-weight:normal">#</text>
</g>
<g>
<path d="M533.75 371.70V368.40M527.85 368.40H539.65" stroke="#000" stroke-width="1.45" fill="none"/>
<rect x="523.15" y="372.45" width="21.20" height="38.85" fill="#fff" stroke="#000" stroke-width="1.50"/>
<path d="M533.75 411.30V414.90" stroke="#000" stroke-width="1.25"/>
<text font-size="8.03" stroke="#000" stroke-width="0.2" text-anchor="end" transform="translate(536.15 422.30) rotate(-45)">sham</text>
<path d="M565.15 331.90V326.70M559.25 326.70H571.05" stroke="#000" stroke-width="1.45" fill="none"/>
<rect x="554.55" y="332.65" width="21.20" height="78.65" fill="#000" stroke="#000" stroke-width="1.50"/>
<path d="M565.15 411.30V414.90" stroke="#000" stroke-width="1.25"/>
<text font-size="8.03" stroke="#000" stroke-width="0.2" text-anchor="end" transform="translate(567.55 422.30) rotate(-45)">CLP</text>
<path d="M596.55 326.70V320.60M590.65 320.60H602.45" stroke="#000" stroke-width="1.45" fill="none"/>
<rect x="585.95" y="327.45" width="21.20" height="83.85" fill="#707070" stroke="#000" stroke-width="1.50"/>
<path d="M596.55 411.30V414.90" stroke="#000" stroke-width="1.25"/>
<text font-size="8.03" stroke="#000" stroke-width="0.2" text-anchor="end" transform="translate(597.65 423.80) rotate(-45)">CLP+ peptide</text>
<path d="M627.95 350.60V345.80M622.05 345.80H633.85" stroke="#000" stroke-width="1.45" fill="none"/>
<rect x="617.35" y="351.35" width="21.20" height="59.95" fill="url(#hz)" stroke="#000" stroke-width="1.50"/>
<path d="M627.95 411.30V414.90" stroke="#000" stroke-width="1.25"/>
<text font-size="8.03" stroke="#000" stroke-width="0.2" text-anchor="end" transform="translate(630.35 422.30) rotate(-45)">CLP+H2</text>
<path d="M659.35 337.80V333.00M653.45 333.00H665.25" stroke="#000" stroke-width="1.45" fill="none"/>
<rect x="648.75" y="338.55" width="21.20" height="72.75" fill="url(#dg)"/>
<rect x="648.75" y="338.55" width="21.20" height="72.75" fill="url(#dg2)" stroke="#000" stroke-width="1.50"/>
<path d="M659.35 411.30V414.90" stroke="#000" stroke-width="1.25"/>
<text font-size="8.03" stroke="#000" stroke-width="0.2" text-anchor="end" transform="translate(661.75 422.30) rotate(-45)">CLP+ peptide P+H2</text>
<path d="M517.60 305.60V411.30H675.10" stroke="#000" stroke-width="1.3" fill="none"/>
<path d="M514.00 411.30H517.60" stroke="#000" stroke-width="1.25"/>
<text x="513.3" y="414.1" font-size="8.03" text-anchor="end" stroke="#000" stroke-width="0.25">0.0</text>
<path d="M514.00 390.28H517.60" stroke="#000" stroke-width="1.25"/>
<text x="513.3" y="393.1" font-size="8.03" text-anchor="end" stroke="#000" stroke-width="0.25">0.2</text>
<path d="M514.00 369.26H517.60" stroke="#000" stroke-width="1.25"/>
<text x="513.3" y="372.1" font-size="8.03" text-anchor="end" stroke="#000" stroke-width="0.25">0.4</text>
<path d="M514.00 348.24H517.60" stroke="#000" stroke-width="1.25"/>
<text x="513.3" y="351.0" font-size="8.03" text-anchor="end" stroke="#000" stroke-width="0.25">0.6</text>
<path d="M514.00 327.22H517.60" stroke="#000" stroke-width="1.25"/>
<text x="513.3" y="330.0" font-size="8.03" text-anchor="end" stroke="#000" stroke-width="0.25">0.8</text>
<path d="M514.00 306.20H517.60" stroke="#000" stroke-width="1.25"/>
<text x="513.3" y="309.0" font-size="8.03" text-anchor="end" stroke="#000" stroke-width="0.25">1.0</text>
<text font-size="9.10" stroke="#000" stroke-width="0.2" text-anchor="middle" transform="translate(488.10 356.55) rotate(-90)">Relative density</text>
<text font-size="8.86" stroke="#000" stroke-width="0.2" text-anchor="middle" transform="translate(498.60 358.35) rotate(-90)">Caspase-1/GAPDH</text>
<text transform="translate(565.15 329.40) scale(1.08 0.88)" font-size="25" text-anchor="middle">*</text>
<text transform="translate(627.95 339.20) scale(1 1.1)" font-size="17.3" stroke="#000" stroke-width="0.3" text-anchor="middle" style="font-weight:normal">#</text>
</g>
</svg>
</body></html>
